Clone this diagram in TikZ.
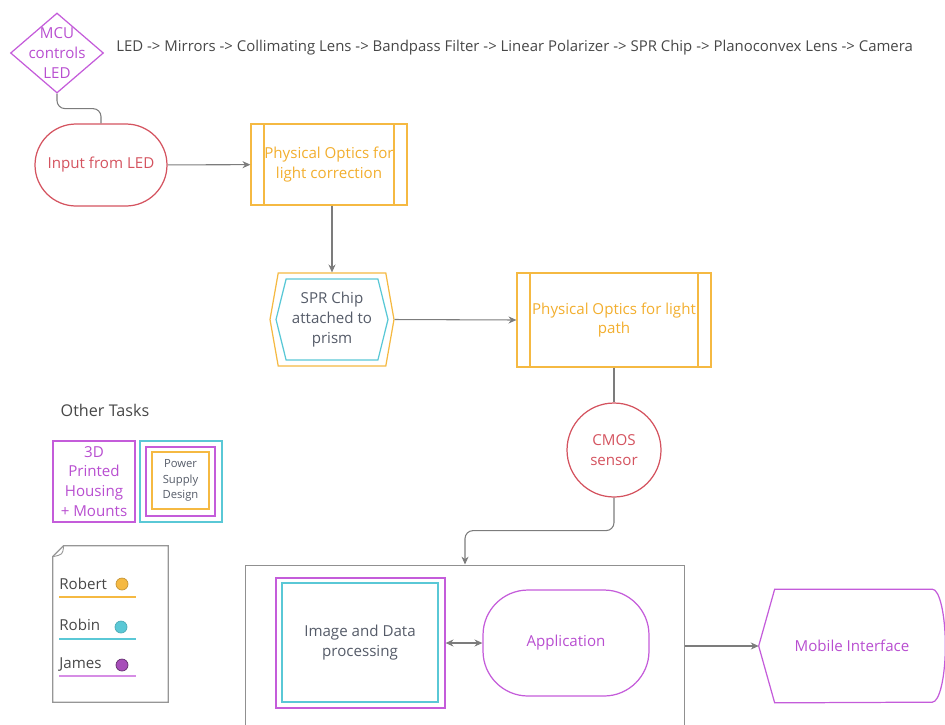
\documentclass[tikz,border=0pt]{standalone}
\usepackage{fontspec}
\setmainfont{Open Sans}
\usetikzlibrary{shapes.geometric, shapes.symbols, arrows.meta, positioning}

\definecolor{optyellow}{HTML}{F5B942}
\definecolor{opttext}{HTML}{F2AE2E}
\definecolor{chipcyan}{HTML}{5AC8D6}
\definecolor{teamviolet}{HTML}{C45CDA}
\definecolor{violettext}{HTML}{B84ED0}
\definecolor{sensorred}{HTML}{D4535F}
\definecolor{flowgray}{HTML}{7C7C7C}
\definecolor{slatetext}{HTML}{555B68}
\definecolor{plaintext}{HTML}{474747}

\begin{document}
\begin{tikzpicture}[
    x=0.02cm, y=-0.02cm,
    every node/.style={font=\fontsize{8.6pt}{11.3pt}\selectfont, align=center, inner sep=0pt},
    flow/.style={draw=flowgray, line width=0.6pt, -{Stealth[length=4.5pt, width=4pt]}},
    link/.style={draw=flowgray, line width=0.6pt, rounded corners=0.16cm},
    terminal/.style={rectangle, draw=sensorred, line width=0.7pt, text=sensorred},
    predef/.style={rectangle, draw=optyellow, line width=0.7pt, text=opttext,
        path picture={\draw[optyellow, line width=0.7pt]
            ([xshift=0.26cm]path picture bounding box.north west) -- ([xshift=0.26cm]path picture bounding box.south west)
            ([xshift=-0.26cm]path picture bounding box.north east) -- ([xshift=-0.26cm]path picture bounding box.south east);}},
    chip/.style={signal, signal to=east and west, line width=0.7pt},
    framed/.style={rectangle, line width=0.7pt}
]
    \useasboundingbox (0,0) rectangle (945,724);

    % Start
    \node[diamond, draw=teamviolet, line width=0.7pt, minimum width=1.86cm, minimum height=1.6cm,
        label={[text=violettext, align=center]center:MCU\\controls\\LED}] (mcu) at (57,53) {};
    \node[anchor=west, text=plaintext, font=\fontsize{8.5pt}{11pt}\selectfont] (chain) at (116,48)
        {LED -> Mirrors -> Collimating Lens -> Bandpass Filter -> Linear Polarizer -> SPR Chip -> Planoconvex Lens -> Camera};
    \node[terminal, rounded corners=0.82cm, minimum width=2.64cm, minimum height=1.64cm] (input) at (101,165) {Input from LED};

    % Optics
    \node[predef, minimum width=3.12cm, minimum height=1.62cm] (optcorr) at (329,164.5) {Physical Optics for\\light correction};
    \node[chip, draw=optyellow, signal pointer angle=160, minimum width=2.48cm, minimum height=1.86cm] (sprout) at (332,319.5) {};
    \node[chip, draw=chipcyan, signal pointer angle=152, minimum width=2.24cm, minimum height=1.62cm, text=slatetext] (spr) at (332,319.5) {SPR Chip\\attached to\\prism};
    \node[predef, minimum width=3.88cm, minimum height=1.88cm] (optpath) at (614,320) {Physical Optics for light\\path};
    \node[circle, draw=sensorred, line width=0.7pt, minimum size=1.88cm, text=sensorred] (cmos) at (614,450) {CMOS\\sensor};

    % Processing
    \node[framed, draw=flowgray!85, line width=0.6pt, minimum width=8.8cm, minimum height=4cm] (proc) at (465,665) {};
    \node[framed, draw=teamviolet, minimum width=3.38cm, minimum height=2.6cm] (imgout) at (360.5,643) {};
    \node[framed, draw=chipcyan, minimum width=3.12cm, minimum height=2.38cm, text=slatetext] (img) at (360,642.5) {Image and Data\\processing};
    \node[terminal, draw=teamviolet, text=violettext, rounded corners=0.9cm, minimum width=3.32cm, minimum height=2.12cm] (app) at (566,643) {Application};
    \node[minimum width=3.72cm, minimum height=2.26cm, text=violettext] (mobile) at (852,646) {Mobile Interface};
    \draw[teamviolet, line width=0.7pt] (mobile.west) -- ([xshift=0.32cm]mobile.north west) -- ([xshift=-0.26cm]mobile.north east)
        arc[start angle=90, end angle=-90, x radius=0.26cm, y radius=1.13cm] -- ([xshift=0.32cm]mobile.south west) -- cycle;

    % Connections
    \draw[link] (mcu.south) -- ++(0,15) -| (input.north);
    \draw[flow] (optcorr.south -| sprout.north) -- (sprout.north);
    \draw[flow] (input) -- (optcorr);
    \draw[flow] (sprout.east) -- (optpath.west);
    \draw[link] (optpath.south) -- (cmos.north);
    \draw[flow, rounded corners=0.16cm] (cmos.south) -- ++(0,33) -| (proc.north);
    \draw[flow, {Stealth[length=4.5pt, width=4pt]}-{Stealth[length=4.5pt, width=4pt]}] (imgout.east) -- (app.west);
    \draw[flow] (proc.east |- mobile.west) -- (mobile.west);

    % Other tasks
    \node[text=plaintext, font=\fontsize{9.2pt}{11pt}\selectfont] (other) at (105,410) {Other Tasks};
    \node[framed, draw=teamviolet, text=violettext, minimum width=1.64cm, minimum height=1.62cm] (housing) at (94,481.5) {3D\\Printed\\Housing\\+ Mounts};
    \node[framed, draw=chipcyan, minimum width=1.64cm, minimum height=1.62cm] (powerout) at (181,481.5) {};
    \node[framed, draw=teamviolet, minimum size=1.38cm] (powermid) at (180.5,481.5) {};
    \node[framed, draw=optyellow, minimum size=1.14cm, text=slatetext, font=\fontsize{6.4pt}{9pt}\selectfont] (power) at (180.5,480.5) {Power\\Supply\\Design};

    % Legend
    \node[minimum width=2.3cm, minimum height=3.12cm] (legend) at (110.5,624) {};
    \draw[flowgray!80, line width=0.7pt] ([shift={(0,11)}]legend.north west) -- ([shift={(11,0)}]legend.north west) -- (legend.north east)
        -- (legend.south east) -- (legend.south west) -- cycle;
    \draw[flowgray!80, line width=0.5pt] ([shift={(11,0)}]legend.north west) .. controls ([shift={(10,9)}]legend.north west) .. ([shift={(0,11)}]legend.north west);
    \node[anchor=west, text=plaintext] (robert) at (59,584) {Robert};
    \node[anchor=west, text=plaintext] (robin) at (59,625) {Robin};
    \node[anchor=west, text=plaintext] (james) at (59,665) {James};
    \node[circle, fill=optyellow, draw=optyellow!80!black, minimum size=0.24cm] (robertdot) at (122,584) {};
    \node[circle, fill=chipcyan, draw=chipcyan!85!black, minimum size=0.24cm] (robindot) at (121,627) {};
    \node[circle, fill=teamviolet!85!black, draw=teamviolet!50!black, minimum size=0.24cm] (jamesdot) at (122,665) {};
    \draw[optyellow, line width=0.8pt] ([yshift=-0.26cm]robert.west) -- ++(77,0);
    \draw[chipcyan, line width=0.8pt] ([yshift=-0.28cm]robin.west) -- ++(77,0);
    \draw[teamviolet!70, line width=0.8pt] ([yshift=-0.22cm]james.west) -- ++(77,0);

\end{tikzpicture}
\end{document}
